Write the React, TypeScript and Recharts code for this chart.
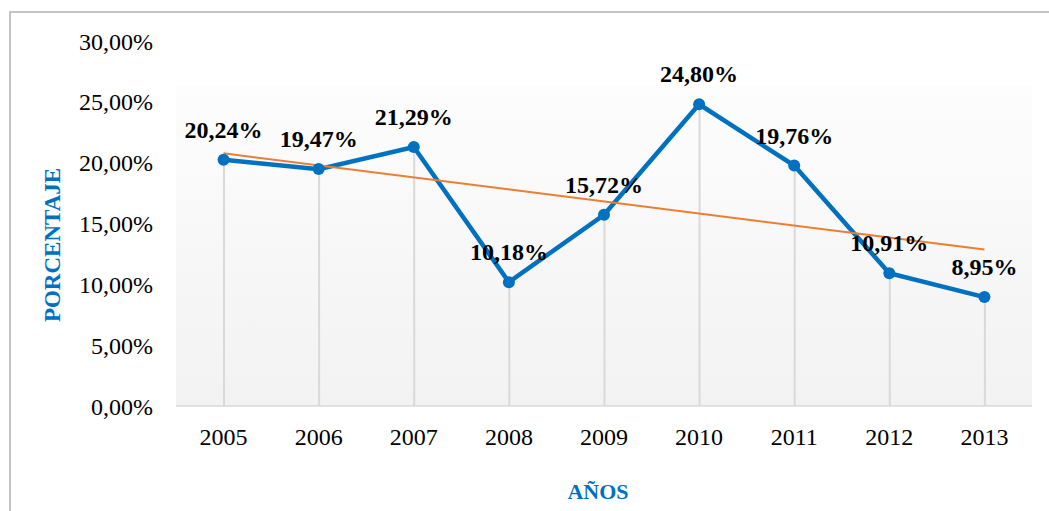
import React from 'react';
import {
  ComposedChart,
  Line,
  Bar,
  XAxis,
  YAxis,
  CartesianGrid,
  LabelList,
  Label,
} from 'recharts';

const years = ['2005', '2006', '2007', '2008', '2009', '2010', '2011', '2012', '2013'];
const porcentaje = [20.24, 19.47, 21.29, 10.18, 15.72, 24.8, 19.76, 10.91, 8.95];
// linear trend end points
const trendStart = 20.77;
const trendEnd = 12.86;
const yTicks = [0, 5, 10, 15, 20, 25, 30];

const data = years.map((year, i) => ({
  year,
  value: porcentaje[i],
  trend: i === 0 ? trendStart : i === years.length - 1 ? trendEnd : null,
}));

const serif = '"Liberation Serif", "Times New Roman", serif';
const blue = '#0070C0';

const fmt = (v: any) => Number(v).toFixed(2).replace('.', ',') + '%';

const App: React.FC = () => {
  return (
    <div
      style={{
        position: 'absolute',
        left: 9,
        top: 11,
        width: 1040,
        height: 500,
        boxSizing: 'border-box',
        borderTop: '2px solid #c4c4c4',
        borderLeft: '2px solid #c4c4c4',
        overflow: 'hidden',
        background: '#fff',
      }}
    >
      <ComposedChart
        width={1038}
        height={498}
        data={data}
        margin={{ top: 28, right: 17, left: 0, bottom: 0 }}
        style={{ fontFamily: serif }}
      >
        <defs>
          <linearGradient id="plotBg" x1="0" y1="0" x2="0" y2="1">
            <stop offset="0" stopColor="#ffffff" />
            <stop offset="0.12" stopColor="#ffffff" />
            <stop offset="0.125" stopColor="#fdfdfd" />
            <stop offset="1" stopColor="#f2f2f2" />
          </linearGradient>
        </defs>
        <CartesianGrid horizontal={false} vertical={false} fill="url(#plotBg)" />
        <XAxis
          dataKey="year"
          height={105}
          tickSize={0}
          tickMargin={22}
          tickLine={false}
          axisLine={{ stroke: '#d9d9d9', strokeWidth: 1.5 }}
          tick={{ fill: '#000', fontSize: 24, fontFamily: serif }}
        >
          <Label
            value="AÑOS"
            position="insideBottom"
            offset={12}
            dx={-6}
            style={{ fill: blue, fontSize: 22, fontWeight: 'bold', fontFamily: serif }}
          />
        </XAxis>
        <YAxis
          width={165}
          domain={[0, 30]}
          ticks={yTicks}
          tickFormatter={fmt}
          tickSize={0}
          tickMargin={23}
          tickLine={false}
          axisLine={false}
          tick={{ fill: '#000', fontSize: 24, fontFamily: serif }}
        >
          <Label
            content={() => (
              <text
                x={41}
                y={232}
                transform="rotate(-90 41 232)"
                textAnchor="middle"
                dominantBaseline="central"
                fill={blue}
                fontSize={23}
                fontWeight="bold"
                fontFamily={serif}
              >
                PORCENTAJE
              </text>
            )}
          />
        </YAxis>
        <Bar dataKey="value" barSize={2} fill="#d9d9d9" isAnimationActive={false} />
        <Line
          type="linear"
          dataKey="value"
          stroke={blue}
          strokeWidth={4.5}
          dot={{ r: 6, fill: blue, stroke: blue, strokeWidth: 0 }}
          activeDot={false}
          isAnimationActive={false}
        />
        <Line
          type="linear"
          dataKey="trend"
          stroke="#ED7D31"
          strokeWidth={2}
          dot={false}
          activeDot={false}
          connectNulls
          isAnimationActive={false}
        />
        <Line
          type="linear"
          dataKey="value"
          stroke="none"
          dot={false}
          activeDot={false}
          isAnimationActive={false}
        >
          <LabelList
            dataKey="value"
            position="top"
            offset={22}
            formatter={fmt}
            style={{ fill: '#000', fontSize: 24, fontWeight: 'bold', fontFamily: serif }}
          />
        </Line>
      </ComposedChart>
    </div>
  );
};

export default App;
